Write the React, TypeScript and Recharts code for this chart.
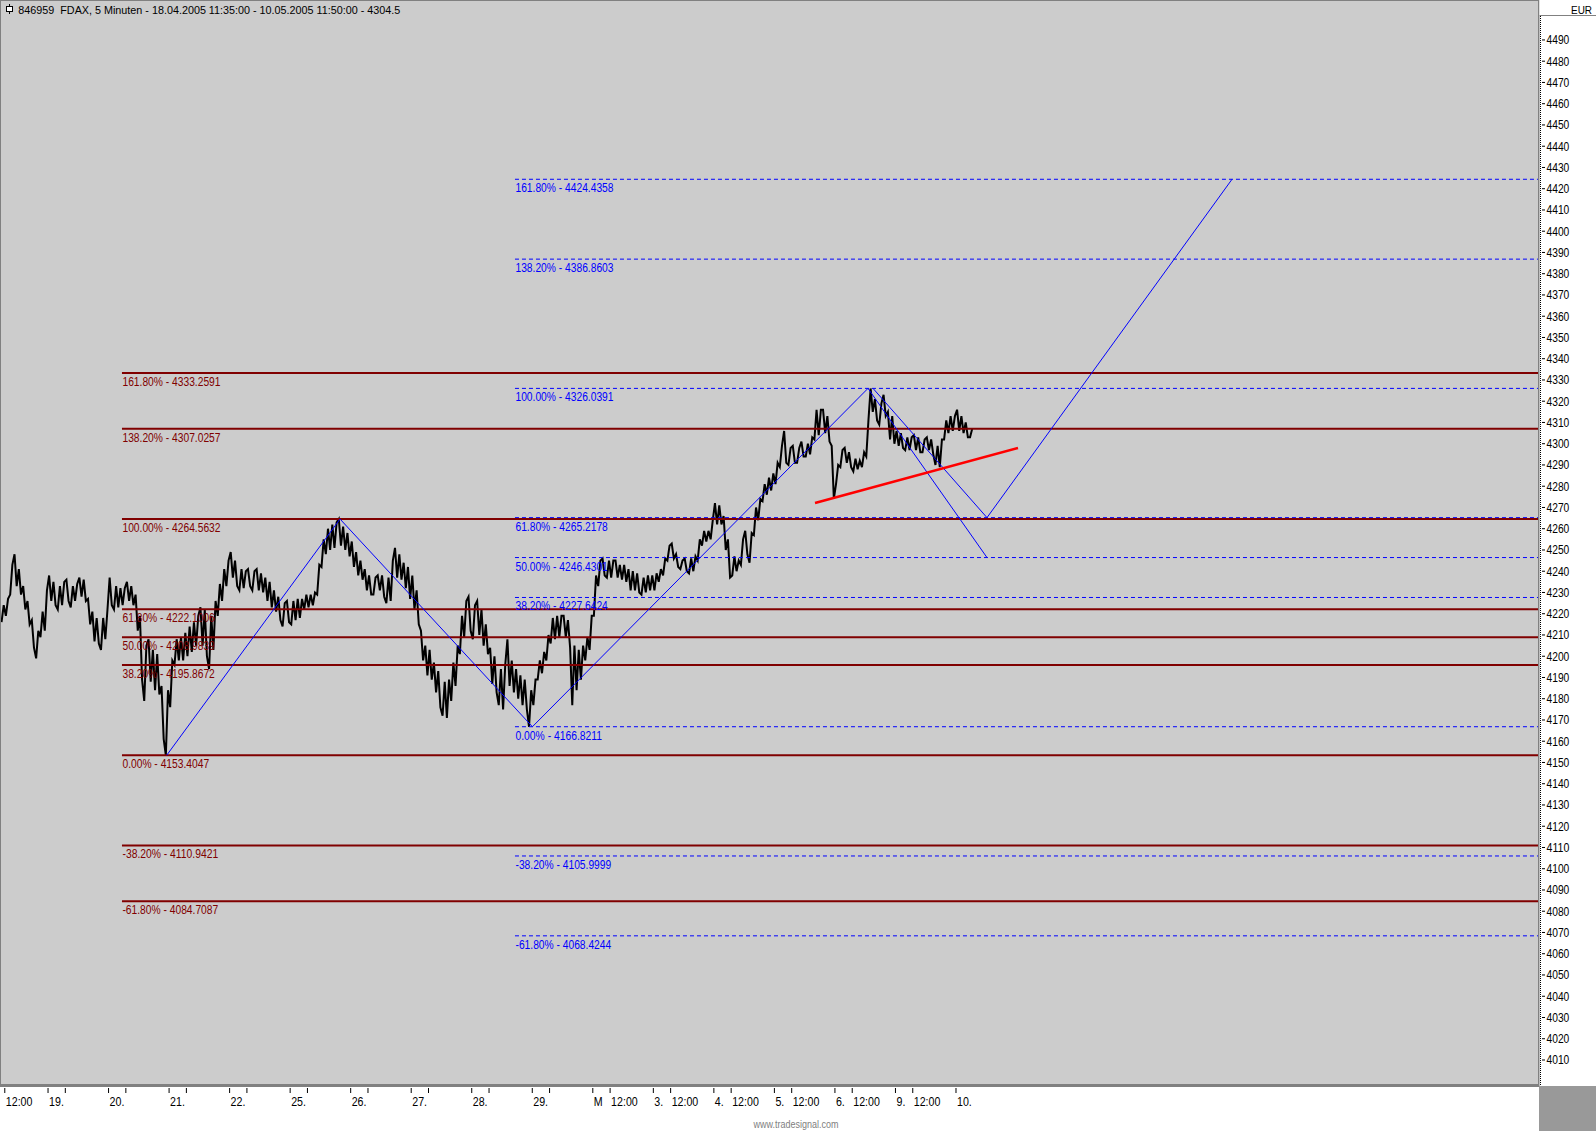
import { ComposedChart, Line, XAxis, YAxis, ReferenceLine, ReferenceDot } from 'recharts'

const CHART_W = 1596
const CHART_H = 1131
const PLOT_W = 1538
const PLOT_H = 1084

const MAROON = '#800000'
const BLUE = '#0000ff'
const NARROW_FONT = "'Liberation Sans Narrow', 'Arial Narrow', 'Liberation Sans', Arial, sans-serif"
const PLAIN_FONT = "'Liberation Sans', Arial, sans-serif"

// x = trading hours, 14 hourly slots per day (08:00 - 22:00), trading day n starts at 14 * n
const X_MIN = 2.891
const X_MAX = 358.61
const Y_MIN = 3998.7
const Y_MAX = 4508.8

const dayLabels = ['18.', '19.', '20.', '21.', '22.', '25.', '26.', '27.', '28.', '29.', 'M', '3.', '4.', '5.', '6.', '9.', '10.']
const noonLabelDays = [0, 10, 11, 12, 13, 14, 15]

// FDAX 5 min, summarised per hour slot (high / low), first slot = 18.04. 11:00
const firstSlot = 3

const hourHigh = [
  // 18.04.
  4224, 4227, 4243, 4248, 4241, 4233, 4226, 4217, 4212, 4221, 4231,
  // 19.04.
  4238, 4235, 4233, 4235, 4236, 4233, 4234, 4237, 4236, 4227, 4221, 4218, 4218, 4222,
  // 20.04.
  4237, 4233, 4232, 4232, 4235, 4233, 4229, 4219, 4205, 4208, 4203, 4201, 4186, 4184,
  // 21.04.
  4198, 4208, 4209, 4211, 4214, 4216, 4219, 4223, 4222, 4219, 4226, 4234, 4241, 4245,
  // 22.04.
  4249, 4245, 4241, 4240, 4241, 4240, 4241, 4239, 4237, 4235, 4231, 4228, 4225, 4226,
  // 25.04.
  4226, 4227, 4227, 4229, 4229, 4230, 4243, 4255, 4260, 4262, 4263, 4264.6, 4261, 4258,
  // 26.04.
  4254, 4249, 4245, 4241, 4238, 4237, 4238, 4238, 4237, 4245, 4251, 4248, 4244, 4242,
  // 27.04.
  4238, 4231, 4212, 4205, 4203, 4197, 4193, 4188, 4189, 4197, 4205, 4219, 4226, 4228,
  // 28.04.
  4224, 4226, 4222, 4215, 4204, 4200, 4194, 4196, 4208, 4198, 4194, 4191, 4189, 4184,
  // 29.04.
  4189, 4198, 4202, 4210, 4218, 4219, 4219, 4219, 4217, 4205, 4203, 4205, 4209, 4219,
  // 02.05.
  4238, 4245, 4246, 4245, 4245, 4245, 4243, 4243, 4241, 4240, 4239, 4237, 4238, 4238,
  // 03.05.
  4239, 4241, 4246, 4252, 4253, 4248, 4245, 4246, 4246, 4247, 4255, 4259, 4259, 4264,
  // 04.05.
  4272, 4271, 4266, 4255, 4247, 4245, 4255, 4259, 4258, 4270, 4274, 4281, 4284, 4286,
  // 05.05.
  4291, 4299, 4306, 4298, 4299, 4298, 4301, 4300, 4303, 4316, 4316, 4316, 4313, 4299,
  // 06.05.
  4290, 4297, 4298, 4296, 4293, 4292, 4296, 4311, 4326, 4321, 4319, 4323, 4315, 4313,
  // 09.05.
  4306, 4305, 4303, 4303, 4304, 4303, 4302, 4303, 4302, 4299, 4302, 4311, 4313, 4313,
  // 10.05.
  4316, 4313, 4310, 4307,
]

const hourLow = [
  4216, 4219, 4229, 4233, 4229, 4222, 4215, 4204, 4199, 4209, 4212,
  4226, 4224, 4222, 4224, 4226, 4223, 4226, 4228, 4226, 4215, 4207, 4206, 4203, 4208,
  4224, 4222, 4223, 4224, 4226, 4224, 4212, 4189, 4179, 4188, 4184, 4182, 4161, 4153.4,
  4176, 4196, 4198, 4198, 4200, 4202, 4205, 4205, 4200, 4194, 4203, 4219, 4226, 4233,
  4237, 4233, 4231, 4232, 4233, 4231, 4231, 4230, 4226, 4223, 4221, 4217, 4214, 4216,
  4215, 4217, 4218, 4222, 4223, 4224, 4229, 4242, 4248, 4250, 4251, 4252, 4250, 4247,
  4242, 4238, 4236, 4231, 4229, 4229, 4231, 4228, 4225, 4226, 4237, 4236, 4232, 4227,
  4222, 4215, 4198, 4191, 4189, 4183, 4176, 4172, 4171, 4179, 4186, 4201, 4209, 4212,
  4208, 4210, 4205, 4201, 4187, 4183, 4177, 4175, 4186, 4183, 4180, 4177, 4175, 4166.8,
  4177, 4189, 4192, 4198, 4206, 4208, 4209, 4209, 4204, 4177, 4184, 4189, 4198, 4203,
  4219, 4233, 4238, 4237, 4237, 4237, 4236, 4235, 4231, 4231, 4230, 4229, 4230, 4231,
  4231, 4235, 4238, 4245, 4246, 4242, 4241, 4240, 4239, 4240, 4245, 4252, 4254, 4255,
  4262, 4262, 4250, 4237, 4238, 4240, 4243, 4248, 4244, 4257, 4264, 4273, 4276, 4278,
  4281, 4289, 4291, 4290, 4291, 4291, 4294, 4294, 4295, 4302, 4304, 4305, 4301, 4274,
  4281, 4289, 4291, 4289, 4287, 4288, 4289, 4294, 4315, 4311, 4309, 4313, 4302, 4300,
  4299, 4298, 4297, 4297, 4297, 4296, 4296, 4297, 4295, 4290, 4289, 4302, 4305, 4306,
  4306, 4305, 4303, 4303,
]

const priceTicks = [
  4010, 4020, 4030, 4040, 4050, 4060, 4070, 4080, 4090, 4100, 4110, 4120, 4130, 4140, 4150, 4160, 4170,
  4180, 4190, 4200, 4210, 4220, 4230, 4240, 4250, 4260, 4270, 4280, 4290, 4300, 4310, 4320, 4330,
  4340, 4350, 4360, 4370, 4380, 4390, 4400, 4410, 4420, 4430, 4440, 4450, 4460, 4470, 4480, 4490,
]

// Fibonacci retracements / extensions
const fibPct = ['161.80%', '138.20%', '100.00%', '61.80%', '50.00%', '38.20%', '0.00%', '-38.20%', '-61.80%']
const fibAPrice = [4333.2591, 4307.0257, 4264.5632, 4222.1006, 4208.9839, 4195.8672, 4153.4047, 4110.9421, 4084.7087]
const fibBPrice = [4424.4358, 4386.8603, 4326.0391, 4265.2178, 4246.4301, 4227.6424, 4166.8211, 4105.9999, 4068.4244]
const fibAStart = 31.1
const fibBStart = 122.0

// hand drawn lines (hour, price)
const swingPoints = [
  { h: 41.45, p: 4153.4047 },
  { h: 81.53, p: 4264.5632 },
  { h: 126.03, p: 4166.8211 },
  { h: 203.65, p: 4326.0391 },
]
const projectionDown = [
  { h: 203.65, p: 4326.0391 },
  { h: 231.17, p: 4246.4301 },
]
const projectionUp = [
  { h: 204.81, p: 4326.0391 },
  { h: 231.17, p: 4265.2178 },
  { h: 287.84, p: 4424.4358 },
]
const supportLine = [
  { h: 191.39, p: 4272.1 },
  { h: 238.34, p: 4298.0 },
]

const glyph: Record<string, number> = { '.': 228, ',': 228, ':': 228, ' ': 228, '-': 273, '%': 729, M: 683 }
const narrowWidth = (s: string, size: number) =>
  s.split('').reduce((w, c) => w + (glyph[c] ?? 456), 0) * size / 1000

// each hour slot is drawn as a stroke to its extreme and back (low->high when the next slot is higher)
const priceRows: { h: number, v: number }[] = []
hourHigh.forEach((hi, i) => {
  const lo = hourLow[i]
  const mid = (hi + lo) / 2
  const next = i + 1 < hourHigh.length ? (hourHigh[i + 1] + hourLow[i + 1]) / 2 : mid
  const base = firstSlot + i
  const order = next >= mid ? [lo, hi] : [hi, lo]
  priceRows.push({ h: base + 0.25, v: order[0] }, { h: base + 0.75, v: order[1] })
})

// ticks on every day start and at 12:00
const timeTicks: number[] = []
const timeTickLabel: Record<string, string> = {}
dayLabels.forEach((lab, d) => {
  const start = d * 14
  if (start >= X_MIN) {
    timeTicks.push(start)
    timeTickLabel[start] = lab
  }
  if (d < dayLabels.length - 1) {
    const noon = start + 4
    timeTicks.push(noon)
    timeTickLabel[noon] = noonLabelDays.includes(d) ? '12:00' : ''
  }
})

const segments = (pts: { h: number, p: number }[]) =>
  pts.slice(1).map((pt, i) => [{ x: pts[i].h, y: pts[i].p }, { x: pt.h, y: pt.p }])

const TimeTick = (props: any) => {
  const { x, payload } = props
  const label = timeTickLabel[payload.value]
  return (
    <g>
      <line x1={x} x2={x} y1={1088} y2={1093} stroke="#000" />
      {label ? (
        <text x={x + 1} y={1106} fontSize={13} fontFamily={NARROW_FONT} fill="#000"
          textLength={narrowWidth(label, 13)} lengthAdjust="spacingAndGlyphs">{label}</text>
      ) : null}
    </g>
  )
}

const PriceTick = (props: any) => {
  const { y, payload } = props
  const label = String(payload.value)
  return (
    <g>
      <line x1={1542} x2={1545} y1={y} y2={y} stroke="#000" />
      <text x={1546.5} y={y + 4.5} fontSize={12.5} fontFamily={NARROW_FONT} fill="#000"
        textLength={narrowWidth(label, 12.5)} lengthAdjust="spacingAndGlyphs">{label}</text>
    </g>
  )
}

const fibLabel = (text: string, color: string) => (props: any) => (
  <text x={props.cx + 0.5} y={props.cy + 13} fill={color} fontSize={12.5} fontFamily={NARROW_FONT}
    textLength={narrowWidth(text, 12.5)} lengthAdjust="spacingAndGlyphs">{text}</text>
)

export default function App() {
  const title = '846959  FDAX, 5 Minuten - 18.04.2005 11:35:00 - 10.05.2005 11:50:00 - 4304.5'

  return (
    <div style={{ position: 'relative', width: CHART_W, height: CHART_H, background: '#fff', overflow: 'hidden' }}>
      <style>{'body{margin:0}'}</style>
      {/* plot background */}
      <div style={{ position: 'absolute', left: 0, top: 0, width: PLOT_W, height: PLOT_H, background: '#cccccc' }} />

      <div style={{ position: 'absolute', left: 0, top: 0 }}>
        <ComposedChart width={CHART_W} height={CHART_H} data={priceRows} margin={{ top: 0, right: 0, bottom: 0, left: 0 }}>
          <XAxis dataKey="h" type="number" domain={[X_MIN, X_MAX]} allowDataOverflow ticks={timeTicks} interval={0}
            tick={TimeTick} tickLine={false} axisLine={false} height={CHART_H - PLOT_H} />
          <YAxis orientation="right" type="number" domain={[Y_MIN, Y_MAX]} allowDataOverflow ticks={priceTicks} interval={0}
            tick={PriceTick} tickLine={false} axisLine={false} width={CHART_W - PLOT_W} />

          {fibAPrice.map((p, i) => (
            <ReferenceDot key={'la' + i} x={fibAStart} y={p} r={0} ifOverflow="visible"
              shape={fibLabel(`${fibPct[i]} - ${p.toFixed(4)}`, MAROON)} />
          ))}
          {fibBPrice.map((p, i) => (
            <ReferenceDot key={'lb' + i} x={fibBStart} y={p} r={0} ifOverflow="visible"
              shape={fibLabel(`${fibPct[i]} - ${p.toFixed(4)}`, BLUE)} />
          ))}

          <Line type="linear" dataKey="v" stroke="#000" strokeWidth={2} strokeLinejoin="miter"
            dot={false} activeDot={false} isAnimationActive={false} />

          {fibBPrice.map((p, i) => (
            <ReferenceLine key={'fb' + i} segment={[{ x: fibBStart, y: p }, { x: X_MAX, y: p }]}
              stroke={BLUE} strokeWidth={1} strokeDasharray="4 3" ifOverflow="visible" />
          ))}
          {fibAPrice.map((p, i) => (
            <ReferenceLine key={'fa' + i} segment={[{ x: fibAStart, y: p }, { x: X_MAX, y: p }]}
              stroke={MAROON} strokeWidth={2} ifOverflow="visible" />
          ))}

          {[...segments(swingPoints), ...segments(projectionDown), ...segments(projectionUp)].map((seg, i) => (
            <ReferenceLine key={'z' + i} segment={seg} stroke={BLUE} strokeWidth={1} ifOverflow="visible" />
          ))}
          {segments(supportLine).map((seg, i) => (
            <ReferenceLine key={'r' + i} segment={seg} stroke="#ff0000" strokeWidth={2.5} ifOverflow="visible" />
          ))}
        </ComposedChart>
      </div>

      {/* frame, header and footer */}
      <svg width={CHART_W} height={CHART_H} style={{ position: 'absolute', left: 0, top: 0, pointerEvents: 'none' }}>
        <line x1={0} x2={PLOT_W} y1={0.5} y2={0.5} stroke="#808080" />
        <line x1={0.5} x2={0.5} y1={0} y2={PLOT_H} stroke="#808080" />
        <rect x={0} y={PLOT_H} width={PLOT_W + 1} height={3} fill="#808080" />
        <rect x={PLOT_W} y={0} width={1.5} height={PLOT_H + 3} fill="#808080" />
        <line x1={1540.5} x2={1540.5} y1={16} y2={PLOT_H + 2} stroke="#000" strokeDasharray="1 1" />

        <rect x={1539.5} y={0} width={56} height={16} fill="#fff" />
        <line x1={1539.5} x2={CHART_W} y1={15.5} y2={15.5} stroke="#808080" />
        <text x={1592} y={13.5} textAnchor="end" fontSize={11.5} fontFamily={PLAIN_FONT} fill="#000"
          textLength={21} lengthAdjust="spacingAndGlyphs">EUR</text>

        <rect x={1539} y={PLOT_H + 2} width={CHART_W - 1539} height={CHART_H - PLOT_H - 2} fill="#999999" />

        <line x1={9.5} x2={9.5} y1={4} y2={14} stroke="#000" />
        <rect x={6.5} y={6.5} width={6} height={5} fill="#fff" stroke="#000" />
        <text x={18.3} y={13.5} fontSize={11.5} fontFamily={PLAIN_FONT} fill="#000"
          textLength={382} lengthAdjust="spacingAndGlyphs" xmlSpace="preserve">{title}</text>

        <text x={796} y={1128} textAnchor="middle" fontSize={10} fontFamily={NARROW_FONT} fill="#808080"
          textLength={85} lengthAdjust="spacingAndGlyphs">www.tradesignal.com</text>
      </svg>
    </div>
  )
}
